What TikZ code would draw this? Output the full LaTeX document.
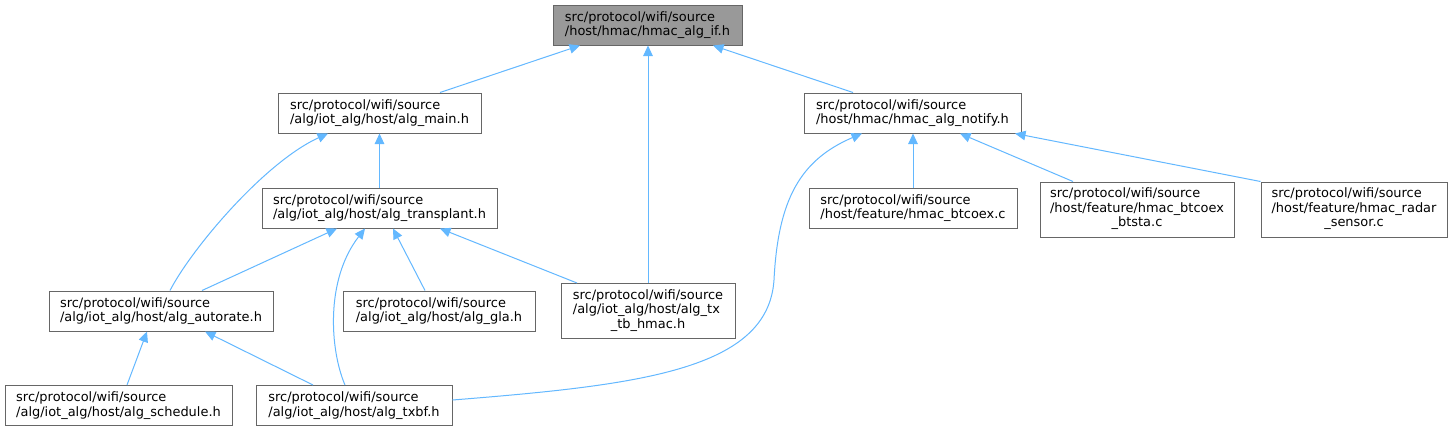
\documentclass[tikz,border=0pt]{standalone}
\usepackage{fontspec}
\setmainfont{DejaVu Sans}
\usetikzlibrary{arrows.meta}
\definecolor{edgeblue}{HTML}{63B8FF}
\definecolor{boxborder}{HTML}{666666}
\definecolor{rootfill}{HTML}{999999}
\begin{document}
\begin{tikzpicture}[x=1pt,y=-1pt,
  file/.style={draw=boxborder, line width=1pt, fill=white, inner sep=0pt,
    minimum height=40pt, align=left, text=black,
    font=\fontsize{12.95}{14.5}\selectfont},
  tall/.style={minimum height=55pt},
  edge/.style={draw=edgeblue, line width=1pt, -{Triangle[length=10.5pt,width=9.5pt]}}]
\useasboundingbox[fill=white] (0,0) rectangle (1453,432);

% rank 0
\node[file, fill=rootfill, minimum width=189pt] (root) at (647.5,25)
  {src/protocol/wifi/source\\/host/hmac/hmac\_alg\_if.h};
% rank 1
\node[file, minimum width=203pt] (algmain) at (379.5,113)
  {src/protocol/wifi/source\\/alg/iot\_alg/host/alg\_main.h};
\node[file, minimum width=217pt] (notify) at (912.5,113)
  {src/protocol/wifi/source\\/host/hmac/hmac\_alg\_notify.h};
% rank 2
\node[file, minimum width=235pt] (transplant) at (379.5,208)
  {src/protocol/wifi/source\\/alg/iot\_alg/host/alg\_transplant.h};
\node[file, minimum width=208pt] (btcoex) at (913,208)
  {src/protocol/wifi/source\\/host/feature/hmac\_btcoex.c};
\node[file, tall, minimum width=194pt] (btsta) at (1137,209.5)
  {\begin{tabular}{@{}l@{}}src/protocol/wifi/source\\/host/feature/hmac\_btcoex\\\multicolumn{1}{@{}c@{}}{\_btsta.c}\end{tabular}};
\node[file, tall, minimum width=186pt] (radar) at (1354,209.5)
  {\begin{tabular}{@{}l@{}}src/protocol/wifi/source\\/host/feature/hmac\_radar\\\multicolumn{1}{@{}c@{}}{\_sensor.c}\end{tabular}};
% rank 3
\node[file, minimum width=224pt] (autorate) at (161,311)
  {src/protocol/wifi/source\\/alg/iot\_alg/host/alg\_autorate.h};
\node[file, minimum width=192pt] (gla) at (439,311)
  {src/protocol/wifi/source\\/alg/iot\_alg/host/alg\_gla.h};
\node[file, tall, minimum width=174pt] (txtb) at (648,311)
  {\begin{tabular}{@{}l@{}}src/protocol/wifi/source\\/alg/iot\_alg/host/alg\_tx\\\multicolumn{1}{@{}c@{}}{\_tb\_hmac.h}\end{tabular}};
% rank 4
\node[file, minimum width=227pt] (schedule) at (118.5,405.5)
  {src/protocol/wifi/source\\/alg/iot\_alg/host/alg\_schedule.h};
\node[file, minimum width=196pt] (txbf) at (354,405.5)
  {src/protocol/wifi/source\\/alg/iot\_alg/host/alg\_txbf.h};

% edges (arrow points to the included-by parent)
\draw[edge] ([xshift=60.5pt]algmain.north) -- ([xshift=-67.5pt]root.south);
\draw[edge] (txtb.north) -- (txtb.north |- root.south);
\draw[edge] ([xshift=-59.5pt]notify.north) -- ([xshift=65.5pt]root.south);
\draw[edge] (transplant.north) -- (algmain.south);
\draw[edge] ([xshift=9pt]autorate.north) .. controls (192,248) and (265,162) .. ([xshift=-51.5pt]algmain.south);
\draw[edge] (btcoex.north) -- (btcoex.north |- notify.south);
\draw[edge] ([xshift=-64pt]btsta.north) -- ([xshift=47.5pt]notify.south);
\draw[edge] (radar.north west) -- ([xshift=102.5pt]notify.south);
\draw[edge] ([yshift=5.5pt]txbf.east) .. controls (640,385) and (768,370) .. (774,280)
  .. controls (778,200) and (800,160) .. ([xshift=-50.5pt]notify.south);
\draw[edge] ([xshift=41pt]autorate.north) -- ([xshift=-42.5pt]transplant.south);
\draw[edge] ([xshift=-9pt]txbf.north) .. controls (330,350) and (325,280) .. ([xshift=-14.5pt]transplant.south);
\draw[edge] ([xshift=-14pt]gla.north) -- ([xshift=13.5pt]transplant.south);
\draw[edge] ([xshift=-71pt]txtb.north) -- ([xshift=60.5pt]transplant.south);
\draw[edge] ([xshift=8.5pt]schedule.north) -- ([xshift=-14pt]autorate.south);
\draw[edge] ([xshift=-41pt]txbf.north) -- ([xshift=44pt]autorate.south);
\end{tikzpicture}
\end{document}
